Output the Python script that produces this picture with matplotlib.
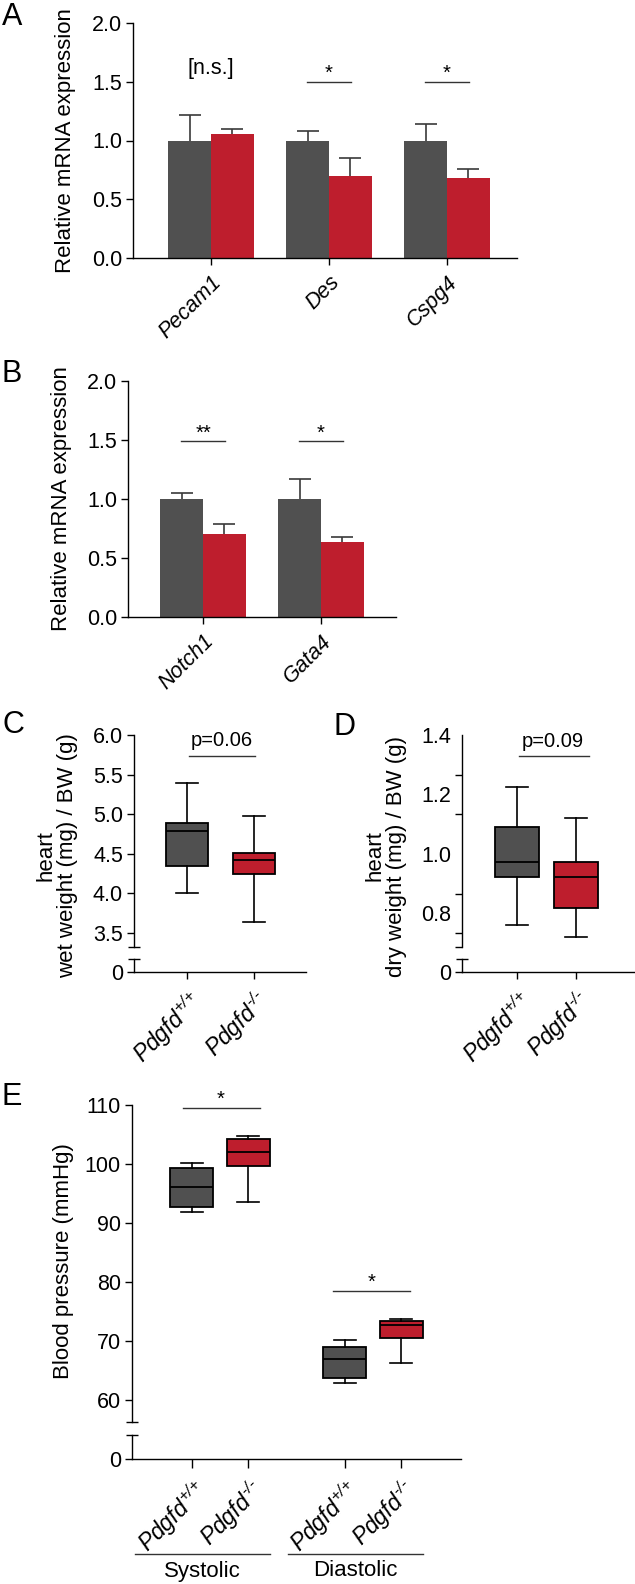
import numpy as np
import matplotlib
matplotlib.use('Agg')
import matplotlib.pyplot as plt
from matplotlib.transforms import blended_transform_factory

plt.rcParams['font.family'] = ['Liberation Sans', 'DejaVu Sans']
plt.rcParams['mathtext.fontset'] = 'custom'
plt.rcParams['mathtext.rm'] = 'Liberation Sans:italic'
plt.rcParams['mathtext.it'] = 'Liberation Sans:italic'
plt.rcParams['mathtext.bf'] = 'Liberation Sans:bold'
plt.rcParams['axes.linewidth'] = 1.0

# ---------------- data ----------------
a_genes = ['Pecam1', 'Des', 'Cspg4']
a_wt = [1.0, 1.0, 1.0]
a_wt_err = [0.22, 0.08, 0.14]
a_ko = [1.055, 0.70, 0.68]
a_ko_err = [0.045, 0.15, 0.08]
a_sig = ['[n.s.]', '*', '*']

b_genes = ['Notch1', 'Gata4']
b_wt = [1.0, 1.0]
b_wt_err = [0.05, 0.17]
b_ko = [0.70, 0.635]
b_ko_err = [0.09, 0.045]
b_sig = ['**', '*']

genotypes = [r'$Pdgfd^{\text{+/+}}$', r'$Pdgfd^{\text{-/-}}$']

c_whislo = [4.00, 3.63]
c_q1 = [4.35, 4.245]
c_med = [4.79, 4.42]
c_q3 = [4.89, 4.51]
c_whishi = [5.39, 4.98]
c_p = 'p=0.06'

d_whislo = [0.761, 0.721]
d_q1 = [0.923, 0.818]
d_med = [0.973, 0.923]
d_q3 = [1.091, 0.973]
d_whishi = [1.225, 1.121]
d_p = 'p=0.09'

e_groups = ['Systolic', 'Diastolic']
e_labels = genotypes * 2
e_whislo = [91.9, 93.6, 62.9, 66.3]
e_q1 = [92.7, 99.6, 63.7, 70.5]
e_med = [96.1, 102.0, 67.0, 72.8]
e_q3 = [99.3, 104.2, 69.0, 73.4]
e_whishi = [100.2, 104.7, 70.2, 73.7]
e_sig = ['*', '*']

# ---------------- style ----------------
W, H, DPI = 635, 1584, 100
GRAY = '#505050'
RED = '#BE1E2D'
ERR = '#3a3a3a'
TICK_FS = 15.5
XT_FS = 15.5
GEN_FS = 16.5
LAB_FS = 16
LET_FS = 22

fig = plt.figure(figsize=(W / DPI, H / DPI), dpi=DPI)
fig.patch.set_facecolor('white')


def add_ax(left, top, right, bottom):
    return fig.add_axes([left / W, 1 - bottom / H, (right - left) / W, (bottom - top) / H])


def style_spines(ax, bottom=True):
    ax.spines['top'].set_visible(False)
    ax.spines['right'].set_visible(False)
    ax.spines['bottom'].set_visible(bottom)
    ax.patch.set_alpha(0)
    ax.tick_params(axis='both', which='major', length=5, width=1.0, labelsize=TICK_FS, pad=3)


def bar_panel(ax, genes, wt, wt_err, ko, ko_err, sigs, line_y, star_y):
    x = np.arange(len(genes))
    w = 0.364
    ax.bar(x - w / 2, wt, w, color=GRAY, zorder=2)
    ax.bar(x + w / 2, ko, w, color=RED, zorder=2)
    for xs, v, e in ((x - w / 2, wt, wt_err), (x + w / 2, ko, ko_err)):
        _, caps, _ = ax.errorbar(xs, v, yerr=[np.zeros(len(v)), e], fmt='none', ecolor=ERR,
                                 elinewidth=1.2, capsize=8, capthick=1.2, zorder=3)
        if len(caps) == 2:
            caps[0].set_visible(False)
    for xi, s in zip(x, sigs):
        if s.startswith('['):
            ax.text(xi, star_y + 0.04, s, ha='center', va='center', fontsize=TICK_FS)
        else:
            ax.plot([xi - 0.19, xi + 0.19], [line_y, line_y], color='#333333', lw=1.0)
            ax.text(xi, star_y, s, ha='center', va='center', fontsize=TICK_FS - 1)
    ax.set_ylim(0, 2.0)
    ax.set_yticks([0, 0.5, 1.0, 1.5, 2.0])
    ax.set_yticklabels(['0.0', '0.5', '1.0', '1.5', '2.0'])
    ax.set_xticks(x)
    ax.set_xticklabels(genes, rotation=45, ha='right', rotation_mode='anchor',
                       fontstyle='italic', fontsize=XT_FS)
    style_spines(ax)
    ax.tick_params(axis='x', pad=5)


# ---------------- Panel A ----------------
axA = add_ax(133, 23, 517, 258)
bar_panel(axA, a_genes, a_wt, a_wt_err, a_ko, a_ko_err, a_sig, 1.50, 1.57)
axA.set_xlim(-0.661, 2.593)
fig.text(66 / W, 1 - 141 / H, 'Relative mRNA expression', rotation=90, ha='center', va='center', fontsize=LAB_FS)
fig.text(2 / W, 1 - 2 / H, 'A', ha='left', va='top', fontsize=LET_FS)

# ---------------- Panel B ----------------
axB = add_ax(128, 381, 396, 617)
bar_panel(axB, b_genes, b_wt, b_wt_err, b_ko, b_ko_err, b_sig, 1.49, 1.56)
axB.set_xlim(-0.636, 1.636)
fig.text(62 / W, 1 - 499 / H, 'Relative mRNA expression', rotation=90, ha='center', va='center', fontsize=LAB_FS)
fig.text(2 / W, 1 - 359 / H, 'B', ha='left', va='top', fontsize=LET_FS)


def box_stats(whislo, q1, med, q3, whishi):
    return [dict(whislo=a, q1=b, med=c, q3=d, whishi=e, fliers=[])
            for a, b, c, d, e in zip(whislo, q1, med, q3, whishi)]


def draw_boxes(ax, stats, pos, width, capw, colors):
    bp = ax.bxp(stats, positions=pos, widths=width, patch_artist=True, showfliers=False,
                capwidths=capw,
                boxprops=dict(edgecolor='black', linewidth=1.3),
                medianprops=dict(color='black', linewidth=1.3),
                whiskerprops=dict(color='black', linewidth=1.2),
                capprops=dict(color='black', linewidth=1.2))
    for patch, c in zip(bp['boxes'], colors):
        patch.set_facecolor(c)


def lower_axis(left, top, right, bottom, xlim, pos, labels):
    ax = add_ax(left, top, right, bottom)
    ax.set_xlim(*xlim)
    ax.set_ylim(0, 1)
    ax.set_yticks([0])
    ax.set_yticklabels(['0'])
    ax.set_yticks([1], minor=True)
    ax.tick_params(axis='y', which='minor', direction='inout', length=8, width=1.0)
    style_spines(ax)
    ax.set_xticks(pos)
    ax.set_xticklabels(labels, rotation=45, ha='right', rotation_mode='anchor', fontsize=GEN_FS)
    ax.tick_params(axis='x', pad=5)
    return ax


def upper_style(ax, ybottom):
    style_spines(ax, bottom=False)
    ax.set_xticks([])
    ax.set_yticks([ybottom], minor=True)
    ax.tick_params(axis='y', which='minor', direction='inout', length=8, width=1.0)


# ---------------- Panel C ----------------
posC = [0, 1]
xlimC = (-0.79, 1.776)
axC = add_ax(134, 735, 306, 947)
draw_boxes(axC, box_stats(c_whislo, c_q1, c_med, c_q3, c_whishi), posC, 0.64, 0.33, [GRAY, RED])
axC.set_xlim(*xlimC)
axC.set_ylim(3.32, 6.0)
axC.set_yticks([3.5, 4.0, 4.5, 5.0, 5.5, 6.0])
axC.set_yticklabels(['3.5', '4.0', '4.5', '5.0', '5.5', '6.0'])
upper_style(axC, 3.32)
axC.plot([0.03, 1.01], [5.735, 5.735], color='#333333', lw=1.0, clip_on=False)
axC.text(0.52, 5.93, c_p, ha='center', va='center', fontsize=TICK_FS - 1, clip_on=False)
lower_axis(134, 959, 306, 972, xlimC, posC, genotypes)
fig.text(57 / W, 1 - 856 / H, 'heart\nwet weight (mg) / BW (g)', rotation=90, ha='center', va='center',
         fontsize=LAB_FS, multialignment='center', linespacing=1.05)
fig.text(2 / W, 1 - 710 / H, 'C', ha='left', va='top', fontsize=LET_FS)

# ---------------- Panel D ----------------
posD = [0, 1]
xlimD = (-0.93, 1.98)
axD = add_ax(462, 735, 634, 947)
draw_boxes(axD, box_stats(d_whislo, d_q1, d_med, d_q3, d_whishi), posD, 0.75, 0.37, [GRAY, RED])
axD.set_xlim(*xlimD)
axD.set_ylim(0.687, 1.4)
axD.set_yticks([0.8, 1.0, 1.2, 1.4])
axD.set_yticklabels(['0.8', '1.0', '1.2', '1.4'])
style_spines(axD, bottom=False)
axD.set_xticks([])
axD.tick_params(axis='y', which='major', length=0, pad=8)
axD.set_yticks(list(1.4 - np.arange(6) * 0.4 / 3) + [0.687], minor=True)
axD.tick_params(axis='y', which='minor', direction='out', length=5, width=1.0)
axD.plot([0.03, 1.22], [1.329, 1.329], color='#333333', lw=1.0, clip_on=False)
axD.text(0.61, 1.378, d_p, ha='center', va='center', fontsize=TICK_FS - 1, clip_on=False)
lower_axis(462, 959, 634, 972, xlimD, posD, genotypes)
fig.text(386 / W, 1 - 856 / H, 'heart\ndry weight (mg) / BW (g)', rotation=90, ha='center', va='center',
         fontsize=LAB_FS, multialignment='center', linespacing=1.05)
fig.text(333 / W, 1 - 712 / H, 'D', ha='left', va='top', fontsize=LET_FS)

# ---------------- Panel E ----------------
posE = [0, 1, 2.7, 3.7]
xlimE = (-1.06, 4.76)
axE = add_ax(132, 1105, 461, 1422)
draw_boxes(axE, box_stats(e_whislo, e_q1, e_med, e_q3, e_whishi), posE, 0.76, 0.39, [GRAY, RED, GRAY, RED])
axE.set_xlim(*xlimE)
axE.set_ylim(56.3, 110)
axE.set_yticks([60, 70, 80, 90, 100, 110])
upper_style(axE, 56.3)
for (x1, x2, xs, ly, sy), s in zip([(-0.16, 1.2, 0.51, 109.5, 110.9), (2.5, 3.86, 3.17, 78.5, 79.9)], e_sig):
    axE.plot([x1, x2], [ly, ly], color='#333333', lw=1.0, clip_on=False)
    axE.text(xs, sy, s, ha='center', va='center', fontsize=TICK_FS - 1, clip_on=False)
axE0 = lower_axis(132, 1435, 461, 1459, xlimE, posE, e_labels)
axE0.tick_params(axis='x', length=6.5)
tr = blended_transform_factory(axE0.transData, fig.transFigure)
for (x1, x2), g in zip([(-1.0, 1.38), (1.70, 4.09)], e_groups):
    axE0.plot([x1, x2], [1 - 1554 / H] * 2, color='#333333', lw=1.0, transform=tr, clip_on=False)
    axE0.text((x1 + x2) / 2, 1 - 1571 / H, g, ha='center', va='center', fontsize=LAB_FS, transform=tr)
fig.text(64 / W, 1 - 1261 / H, 'Blood pressure (mmHg)', rotation=90, ha='center', va='center', fontsize=LAB_FS)
fig.text(1 / W, 1 - 1082 / H, 'E', ha='left', va='top', fontsize=LET_FS)

fig.savefig('out.png', dpi=DPI, facecolor='white')
